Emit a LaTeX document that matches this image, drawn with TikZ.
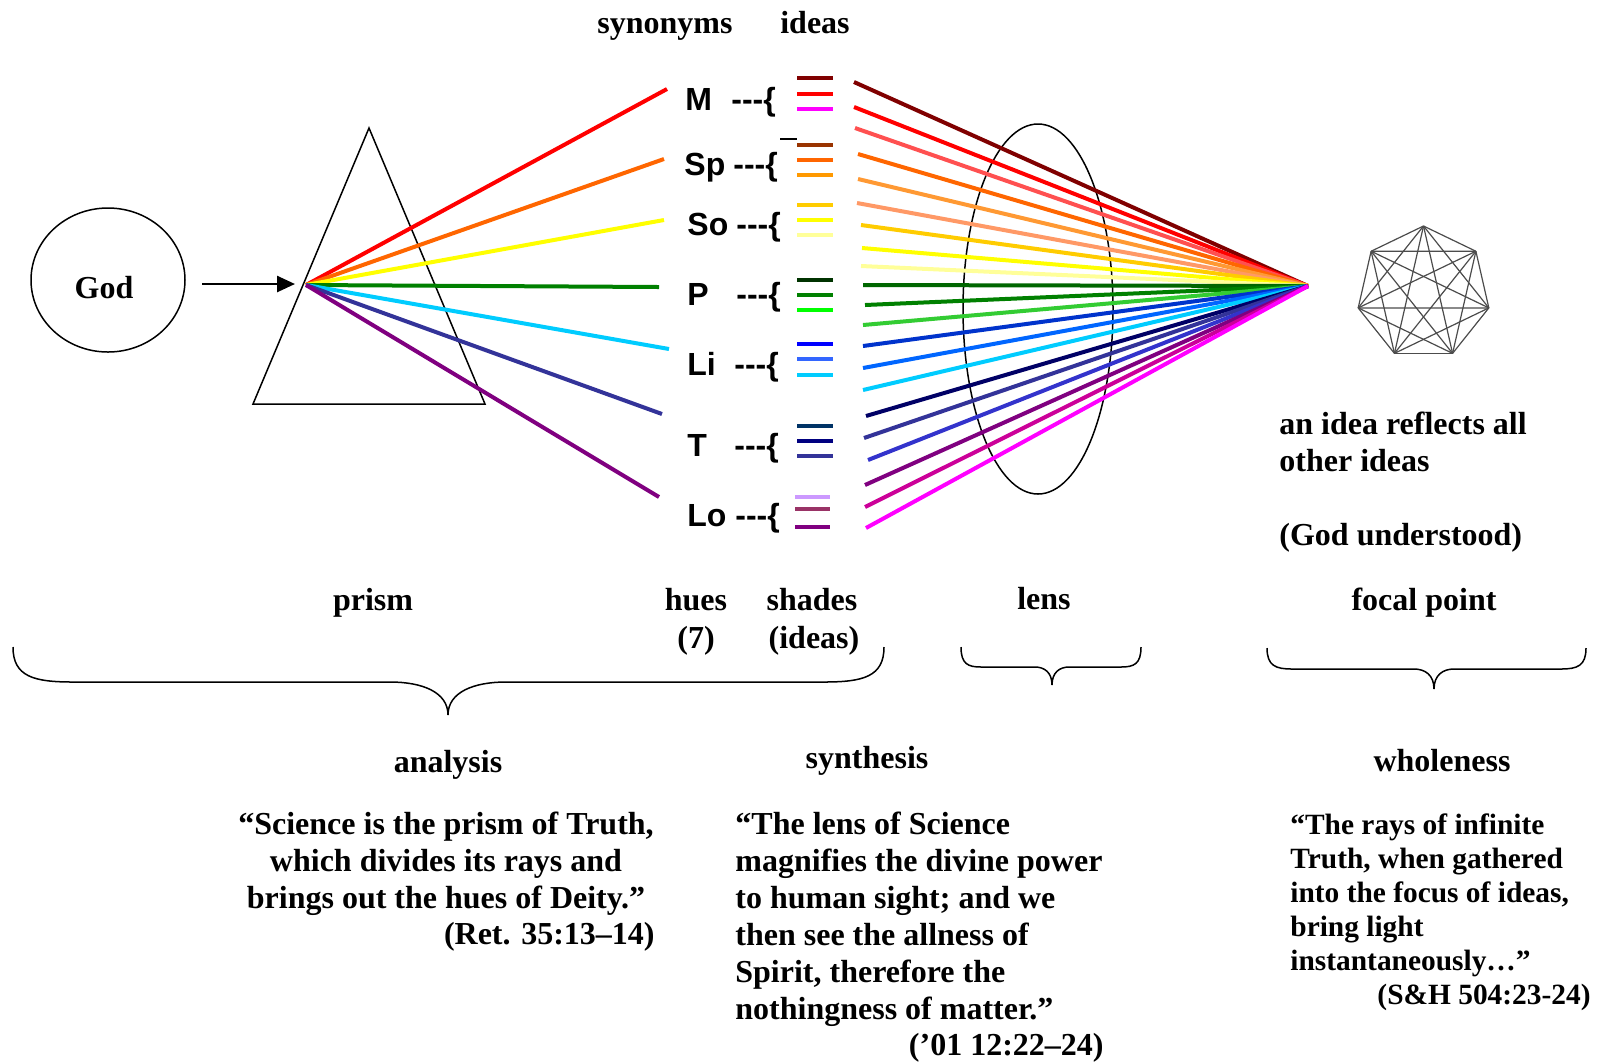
\documentclass[tikz,border=0pt]{standalone}
\usepackage{fontspec}
\setmainfont{Liberation Serif}
\newfontfamily\arialfont{Liberation Sans}
\usetikzlibrary{arrows.meta,shapes.geometric}
\newcommand{\curlybrace}[8]{%
\draw[brc] (#1,#4) .. controls (#1,{#4+0.85*(#5-#4)}) and ({#1+0.35*#7},#5) .. ({#1+#7},#5)
 -- ({#3-#8},#5) .. controls ({#3-0.45*#8},#5) and (#3,{#5+0.3*(#6-#5)}) .. (#3,#6)
 .. controls (#3,{#5+0.3*(#6-#5)}) and ({#3+0.45*#8},#5) .. ({#3+#8},#5)
 -- ({#2-#7},#5) .. controls ({#2-0.35*#7},#5) and (#2,{#4+0.85*(#5-#4)}) .. (#2,#4);}
\begin{document}
\begin{tikzpicture}[x=0.5pt,y=-0.5pt,
 lbl/.style={font=\fontsize{16}{19}\selectfont\bfseries, inner sep=0pt},
 qsmall/.style={font=\fontsize{14.7}{17}\selectfont\bfseries, inner sep=0pt},
 sanslbl/.style={font=\arialfont\fontsize{16}{19}\selectfont\bfseries, inner sep=0pt},
 ray/.style={line width=2pt},
 shadeline/.style={line width=1.6pt},
 brc/.style={line width=0.75pt},
 outline/.style={draw, line width=0.75pt},
 hept/.style={line width=0.6pt, draw=black!70}]
\useasboundingbox[fill=white] (0,0) rectangle (1600,1062);

% God and arrow
\node[outline, ellipse, minimum width=77pt, minimum height=72pt, inner sep=0pt] (god) at (108,280) {};
\node[lbl, anchor=base] (godt) at (104,298) {God};
\coordinate (a1) at (202,284);
\coordinate (a2) at (295,284);
\draw[line width=1.3pt, -{Triangle[length=9pt,width=8pt]}] (a1) -- (a2);

% prism
\coordinate (p1) at (369,128);
\coordinate (p2) at (253,404);
\coordinate (p3) at (485,404);
\draw[line width=0.75pt] (p1) -- (p2) -- (p3) -- cycle;

% rays out of the prism
\coordinate (src) at (306,285);
\foreach \i/\x/\y/\c in {1/667/89/FF0000, 2/664/159/FF6600, 3/664/220/FFFF00, 4/659/287/008000,
  5/669/349/00CCFF, 6/662/414/333399, 7/659/497/800080}{
  \definecolor{tmpc}{HTML}{\c}
  \coordinate (h\i) at (\x,\y);
  \draw[ray, tmpc] (src) -- (h\i);
}

% top labels
\node[lbl, anchor=base] (syn) at (665,33) {synonyms};
\node[lbl, anchor=base] (ide) at (815,33) {ideas};

% hue labels
\foreach \i/\t/\xa/\xb/\y in {1/M/685/731/110, 2/Sp/684/733/175, 3/So/687/736/235, 4/P/687/736/305,
  5/Li/687/734/375, 6/T/687/734/456, 7/Lo/687/735/526}{
  \node[sanslbl, anchor=base west] (hue\i) at (\xa,\y) {\t};
  \node[sanslbl, anchor=base west] (br\i) at (\xb,\y) {-\kern0pt-\kern0pt-\{};
}
\coordinate (d1) at (780,139);
\coordinate (d2) at (797,139);
\draw[line width=0.8pt] (d1) -- (d2);

% shade lines (ideas)
\foreach \i/\xa/\xb/\y/\c in {1/797/833/78/800000, 2/797/833/94/FF0000, 3/797/833/109/FF00FF,
  4/797/833/145/993300, 5/797/833/160/FF6600, 6/797/833/175/FF9900,
  7/797/833/205/FFCC00, 8/797/833/220/FFFF00, 9/797/833/235/FFFF99,
  10/797/833/280/003300, 11/797/833/295/008000, 12/797/833/310/00FF00,
  13/797/833/344/0000FF, 14/797/833/359/3366FF, 15/797/833/375/00CCFF,
  16/797/833/426/003366, 17/797/833/441/000080, 18/797/833/456/333399,
  19/795/830/497/CC99FF, 20/795/830/509/993366, 21/795/830/527/800080}{
  \definecolor{tmpc}{HTML}{\c}
  \coordinate (ia\i) at (\xa,\y);
  \coordinate (ib\i) at (\xb,\y);
  \draw[shadeline, tmpc] (ia\i) -- (ib\i);
}

% lens
\node[outline, ellipse, minimum width=75pt, minimum height=185pt, inner sep=0pt] (lens) at (1038,309) {};

% converging rays
\coordinate (fp) at (1308,286);
\foreach \i/\x/\y/\c in {1/854/82/800000, 2/854/107/FF0000, 3/855/128/FF5050, 4/858/154/FF6600,
  5/858/179/FF9933, 6/857/203/FF9966, 7/861/225/FFCC00, 8/862/248/FFFF00, 9/861/266/FFFF99,
  10/863/285/006600, 11/865/305/008000, 12/863/325/33CC33, 13/863/346/0033CC, 14/863/368/0066FF,
  15/863/390/00CCFF, 16/866/416/000066, 17/864/438/333399, 18/868/460/3333CC, 19/865/485/800080,
  20/865/507/CC0099, 21/866/528/FF00FF}{
  \definecolor{tmpc}{HTML}{\c}
  \coordinate (s\i) at (\x,\y);
  \draw[ray, tmpc] (s\i) -- (fp);
}

% heptagon with all diagonals
\foreach \k in {0,...,6}{
  \coordinate (v\k) at ({1423.5+67*cos(90-\k*360/7)},{293-67*sin(90-\k*360/7)});
}
\foreach \a in {0,...,5}{
  \pgfmathtruncatemacro\nxt{\a+1}
  \foreach \b in {\nxt,...,6}{\draw[hept] (v\a) -- (v\b);}
}

% focal text
\node[lbl, anchor=base west] (fa) at (1279,434) {an idea reflects all};
\node[lbl, anchor=base west] (fb) at (1279,471) {other ideas};
\node[lbl, anchor=base west] (fc) at (1279,545) {(God understood)};

% lower labels
\node[lbl, anchor=base] (prism) at (373,610) {prism};
\node[lbl, anchor=base] (hues) at (696,610) {hues};
\node[lbl, anchor=base] (seven) at (696,648) {(7)};
\node[lbl, anchor=base] (shades) at (812,610) {shades};
\node[lbl, anchor=base] (ideas2) at (814,648) {(ideas)};
\node[lbl, anchor=base] (lenst) at (1044,609) {lens};
\node[lbl, anchor=base] (focal) at (1424,610) {focal point};

% braces
\curlybrace{13}{884}{448}{647}{682}{715}{60}{58}
\curlybrace{961}{1141}{1052}{647}{667}{685}{20}{17}
\curlybrace{1267}{1586}{1434}{648}{669}{689}{25}{20}

% analysis
\node[lbl, anchor=base] (ana) at (448,772) {analysis};
\node[lbl, anchor=base] (q1a) at (446,834) {“Science is the prism of Truth,};
\node[lbl, anchor=base] (q1b) at (446,871) {which divides its rays and};
\node[lbl, anchor=base] (q1c) at (446,908) {brings out the hues of Deity.”};
\node[lbl, anchor=base east] (q1d) at (655,944) {(Ret. 35:13–14)};

% synthesis
\node[lbl, anchor=base] (syn2) at (867,768) {synthesis};
\node[lbl, anchor=base west] (q2a) at (735,834) {“The lens of Science};
\node[lbl, anchor=base west] (q2b) at (735,871) {magnifies the divine power};
\node[lbl, anchor=base west] (q2c) at (735,908) {to human sight; and we};
\node[lbl, anchor=base west] (q2d) at (735,945) {then see the allness of};
\node[lbl, anchor=base west] (q2e) at (735,982) {Spirit, therefore the};
\node[lbl, anchor=base west] (q2f) at (735,1019) {nothingness of matter.”};
\node[lbl, anchor=base east] (q2g) at (1104,1055) {(’01 12:22–24)};

% wholeness
\node[lbl, anchor=base] (who) at (1442,771) {wholeness};
\node[qsmall, anchor=base west] (q3a) at (1290,834) {“The rays of infinite};
\node[qsmall, anchor=base west] (q3b) at (1290,868) {Truth, when gathered};
\node[qsmall, anchor=base west] (q3c) at (1290,902) {into the focus of ideas,};
\node[qsmall, anchor=base west] (q3d) at (1290,936) {bring light};
\node[qsmall, anchor=base west] (q3e) at (1290,970) {instantaneously…”};
\node[qsmall, anchor=base east] (q3f) at (1591,1004) {(S\&H 504:23-24)};
\end{tikzpicture}
\end{document}
